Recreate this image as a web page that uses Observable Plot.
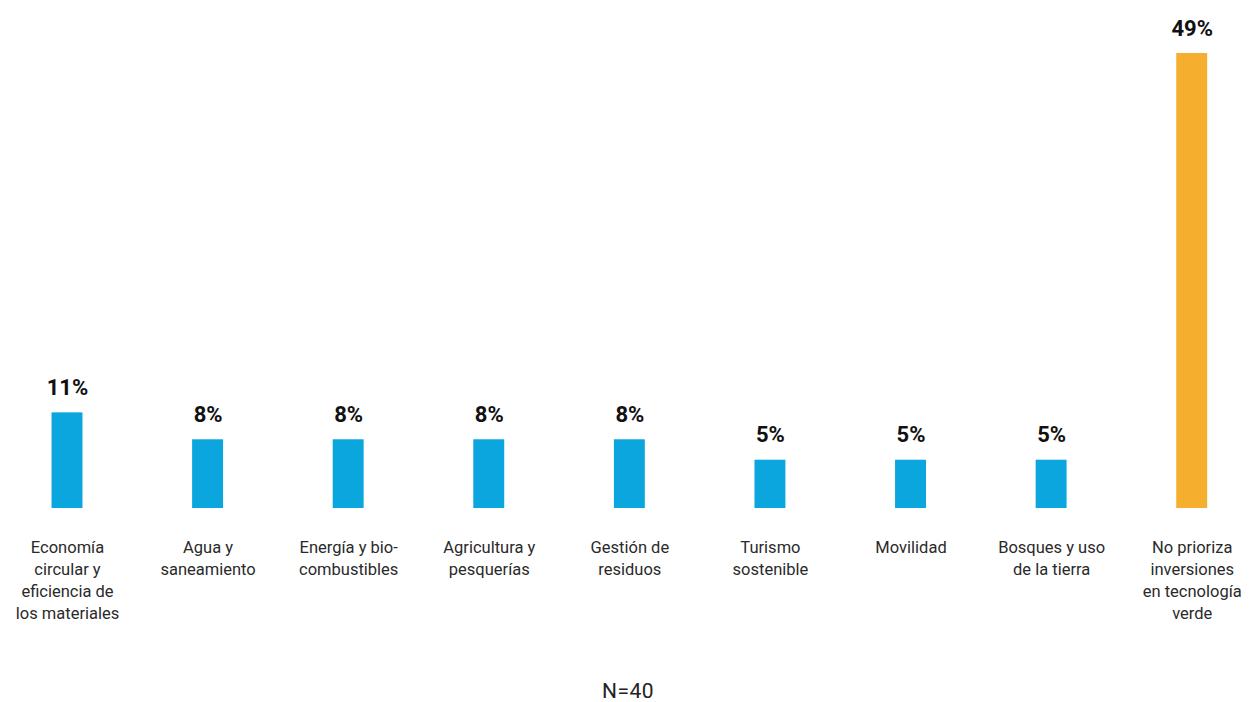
<!DOCTYPE html>
<html>
<head>
<meta charset="utf-8">
<script src="https://cdn.jsdelivr.net/npm/d3@7"></script>
<script src="https://cdn.jsdelivr.net/npm/@observablehq/plot@0.6"></script>
<style>
  body { margin: 0; background: #fff; font-family: Roboto, "Noto Sans", sans-serif; }
  #caption { text-align: center; font-size: 21px; color: #222; width: 1256px; margin-top: 39px; letter-spacing: 0.5px; }
</style>
</head>
<body>
<div id="chart"></div>
<div id="caption">N=40</div>
<script>
const categories = [
  "Economía\ncircular y\neficiencia de\nlos materiales",
  "Agua y\nsaneamiento",
  "Energía y bio-\ncombustibles",
  "Agricultura y\npesquerías",
  "Gestión de\nresiduos",
  "Turismo\nsostenible",
  "Movilidad",
  "Bosques y uso\nde la tierra",
  "No prioriza\ninversiones\nen tecnología\nverde"
];
const values = [10.3, 7.4, 7.4, 7.4, 7.4, 5.2, 5.2, 5.2, 49];
const valueLabels = ["11%", "8%", "8%", "8%", "8%", "5%", "5%", "5%", "49%"];
const highlight = [false, false, false, false, false, false, false, false, true];

const data = categories.map((c, i) => ({category: c, value: values[i], label: valueLabels[i], hi: highlight[i]}));

const chart = Plot.plot({
  width: 1249,
  height: 640,
  marginTop: 53,
  marginBottom: 132,
  marginLeft: 0,
  marginRight: 0,
  style: {fontFamily: "Roboto, 'Noto Sans', sans-serif", background: "#fff"},
  x: {type: "band", domain: categories, range: [-3.3, 1262], paddingInner: 0.78, paddingOuter: 0.39, round: false, axis: null},
  y: {domain: [0, 49], axis: null},
  marks: [
    Plot.barY(data, {x: "category", y: "value", fill: d => d.hi ? "#f6ae2f" : "#0aa6dd"}),
    Plot.text(data, {x: "category", y: "value", text: "label", lineAnchor: "bottom", dy: -18, fontSize: 22, fontWeight: "bold", fill: "#111"}),
    Plot.text(data, {x: "category", y: 0, text: "category", lineAnchor: "top", dy: 29, fontSize: 16.5, lineHeight: 1.333, fill: "#2a2a2a", style: {letterSpacing: "0.3px"}})
  ]
});
document.getElementById("chart").append(chart);
</script>
</body>
</html>
